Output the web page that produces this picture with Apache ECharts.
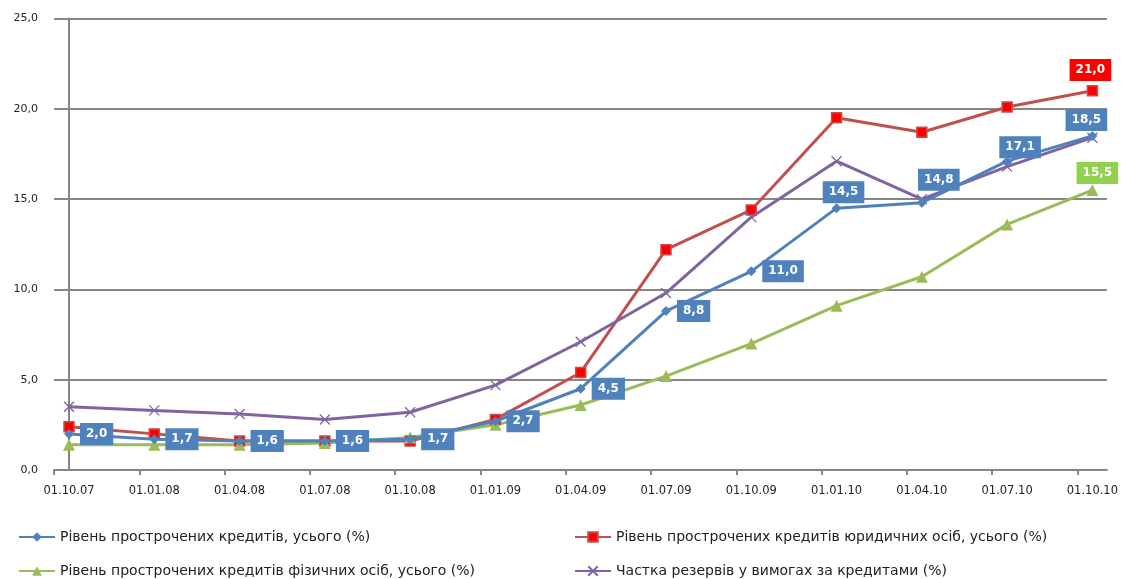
<!DOCTYPE html>
<html>
<head>
<meta charset="utf-8">
<script src="https://cdn.jsdelivr.net/npm/echarts@6/dist/echarts.min.js"></script>
<style>
  html, body { margin: 0; padding: 0; background: #ffffff; }
  #chart { width: 1121px; height: 579px; }
</style>
</head>
<body>
<div id="chart"></div>
<script>
// Reporting dates (quarterly)
const categories = ['01.10.07', '01.01.08', '01.04.08', '01.07.08', '01.10.08', '01.01.09', '01.04.09',
  '01.07.09', '01.10.09', '01.01.10', '01.04.10', '01.07.10', '01.10.10'];

// Overdue loans, total (%)
const overdueTotal = [2.0, 1.7, 1.6, 1.6, 1.7, 2.7, 4.5, 8.8, 11.0, 14.5, 14.8, 17.1, 18.5];
// Overdue loans to legal entities (%)
const overdueCorporate = [2.4, 2.0, 1.6, 1.6, 1.6, 2.8, 5.4, 12.2, 14.4, 19.5, 18.7, 20.1, 21.0];
// Overdue loans to individuals (%)
const overdueRetail = [1.4, 1.4, 1.4, 1.5, 1.8, 2.5, 3.6, 5.2, 7.0, 9.1, 10.7, 13.6, 15.5];
// Reserves share in loan claims (%)
const reserveShare = [3.5, 3.3, 3.1, 2.8, 3.2, 4.7, 7.1, 9.8, 14.0, 17.1, 15.0, 16.8, 18.4];

const yTicks = [0, 5, 10, 15, 20, 25];

const seriesNames = [
  'Рівень прострочених кредитів, усього (%)',
  'Рівень прострочених кредитів юридичних осіб, усього (%)',
  'Рівень прострочених кредитів фізичних осіб, усього (%)',
  'Частка резервів у вимогах за кредитами (%)'
];

// Tick marks sit a little before each reporting point
const TICK_SHIFT = 0.176;

const fmt = v => v.toFixed(1).replace('.', ',');
const FONT = 'DejaVu Sans';

const labelBase = {
  show: true,
  color: '#ffffff',
  fontFamily: FONT,
  fontWeight: 'bold',
  fontSize: 12,
  padding: [5, 6],
  formatter: p => fmt(p.value[1])
};

// Label placement for the total series
const totalLabelPlacement = {
  9: { position: 'top', distance: 0, offset: [7, 0] },
  10: { position: 'top', distance: 7, offset: [17, 0] },
  11: { position: 'top', distance: -2, offset: [13, 0] },
  12: { position: 'top', distance: 0, offset: [-6, 0] }
};

function points(values, labelFor) {
  return values.map((v, i) => {
    const item = { value: [i, v] };
    const lab = labelFor(i);
    if (lab) item.label = lab;
    return item;
  });
}

const last = categories.length - 1;

// One legend entry per slot: two columns, two rows
const legendSlots = [
  { name: seriesNames[0], left: 18, top: 530 },
  { name: seriesNames[1], left: 574, top: 530 },
  { name: seriesNames[2], left: 18, top: 564 },
  { name: seriesNames[3], left: 574, top: 564 }
];

const option = {
  animation: false,
  backgroundColor: '#ffffff',
  grid: { left: 54, right: 13, top: 18.5, bottom: 109, containLabel: false },
  xAxis: {
    type: 'value',
    min: -TICK_SHIFT,
    max: 12.17,
    axisLine: { show: true, lineStyle: { color: '#868686', width: 2 } },
    axisTick: {
      show: true, length: 5, inside: false,
      lineStyle: { color: '#868686', width: 2 },
      customValues: categories.map((_, i) => i - TICK_SHIFT)
    },
    axisLabel: {
      customValues: categories.map((_, i) => i),
      formatter: v => categories[Math.round(v)] || '',
      color: '#222222', fontFamily: FONT, fontSize: 11.5, margin: 15
    },
    splitLine: { show: false }
  },
  yAxis: {
    type: 'value',
    min: yTicks[0],
    max: yTicks[yTicks.length - 1],
    interval: yTicks[1] - yTicks[0],
    axisLine: { show: true, lineStyle: { color: '#868686', width: 2 } },
    axisTick: { show: true, length: 5, lineStyle: { color: '#868686', width: 2 } },
    axisLabel: { formatter: v => fmt(v), color: '#222222', fontFamily: FONT, fontSize: 11, margin: 16 },
    splitLine: { show: true, lineStyle: { color: '#868686', width: 2 } }
  },
  legend: legendSlots.map(s => ({
    data: [s.name],
    left: s.left, top: s.top,
    itemWidth: 36, itemHeight: 12, itemGap: 0,
    padding: 0,
    textStyle: { fontFamily: FONT, fontSize: 14, color: '#222222' }
  })),
  series: [
    {
      name: seriesNames[0], type: 'line', z: 3,
      symbol: 'diamond', symbolSize: 10,
      lineStyle: { color: '#4F81BD', width: 3 },
      itemStyle: { color: '#4F81BD' },
      data: points(overdueTotal, i => Object.assign({}, labelBase, { backgroundColor: '#4F81BD', position: 'right', distance: 6 }, totalLabelPlacement[i] || {}))
    },
    {
      name: seriesNames[1], type: 'line', z: 2,
      symbol: 'rect', symbolSize: 10,
      lineStyle: { color: '#C0504D', width: 3 },
      itemStyle: { color: '#FF0000', borderColor: '#C0504D', borderWidth: 1.5 },
      data: points(overdueCorporate, i => i === last ? Object.assign({}, labelBase, { backgroundColor: '#FF0000', position: 'top', distance: 4, offset: [-2, 0] }) : null)
    },
    {
      name: seriesNames[2], type: 'line', z: 2,
      symbol: 'triangle', symbolSize: 12,
      lineStyle: { color: '#9BBB59', width: 3 },
      itemStyle: { color: '#9BBB59' },
      data: points(overdueRetail, i => i === last ? Object.assign({}, labelBase, { backgroundColor: '#92D050', position: 'top', distance: 0, offset: [5, 0] }) : null)
    },
    {
      name: seriesNames[3], type: 'line', z: 2,
      symbol: 'path://M0,0L10,10M10,0L0,10', symbolSize: 10,
      lineStyle: { color: '#8064A2', width: 3 },
      itemStyle: { color: '#8064A2', borderColor: '#8064A2', borderWidth: 1.3 },
      data: points(reserveShare, () => null)
    }
  ]
};

const chart = echarts.init(document.getElementById('chart'), null, { renderer: 'canvas' });
chart.setOption(option);
</script>
</body>
</html>
